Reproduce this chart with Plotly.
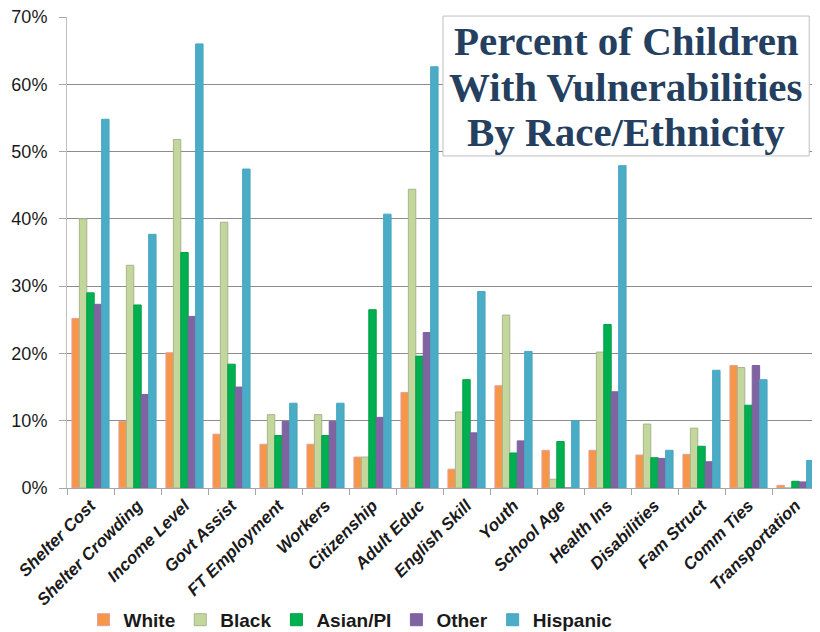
import plotly.graph_objects as go

categories = ["Shelter Cost", "Shelter Crowding", "Income Level", "Govt Assist",
              "FT Employment", "Workers", "Citizenship", "Adult Educ", "English Skill",
              "Youth", "School Age", "Health Ins", "Disabilities", "Fam Struct",
              "Comm Ties", "Transportation"]

white = [25.2, 9.9, 20.1, 8.0, 6.5, 6.5, 4.6, 14.2, 2.8, 15.2, 5.6, 5.6, 4.9, 5.0, 18.2, 0.4]
black = [40.0, 33.1, 51.8, 39.5, 10.9, 10.9, 4.6, 44.4, 11.3, 25.7, 1.3, 20.2, 9.5, 8.9, 17.9, 0.0]
asian = [29.0, 27.2, 35.0, 18.4, 7.8, 7.8, 26.5, 19.6, 16.1, 5.2, 6.9, 24.3, 4.5, 6.2, 12.3, 1.0]
other = [27.3, 13.9, 25.5, 15.0, 9.9, 9.9, 10.5, 23.1, 8.2, 7.0, 0.0, 14.3, 4.4, 3.9, 18.2, 0.9]
hispanic = [54.8, 37.7, 66.0, 47.4, 12.6, 12.6, 40.7, 62.6, 29.2, 20.3, 10.0, 47.9, 5.6, 17.5, 16.1, 4.1]

title_lines = ["Percent of Children", "With Vulnerabilities", "By Race/Ethnicity"]

series = [
    ("White", white, "#F79646", "#E0A0A0"),
    ("Black", black, "#C3D69B", "#A8B48C"),
    ("Asian/PI", asian, "#00B050", "#00A048"),
    ("Other", other, "#8064A2", "#7A62A0"),
    ("Hispanic", hispanic, "#4BACC6", "#48A6C0"),
]

fig = go.Figure()
for name, vals, col, edge in series:
    fig.add_trace(go.Bar(
        x=categories, y=[v / 100 for v in vals], name=name,
        marker=dict(color=col, line=dict(color=edge, width=1)),
    ))

# the page body has an 8px margin, so the figure is sized 812x624
fig.update_layout(
    width=812, height=624,
    margin=dict(l=59, r=1, t=9, b=144, autoexpand=False),
    paper_bgcolor="white", plot_bgcolor="white",
    barmode="group", bargap=0.21, bargroupgap=0,
    font=dict(family="Liberation Sans, Arial, sans-serif", color="#1a1a1a"),
    legend=dict(orientation="h", x=0.022, xanchor="left", y=-0.28, yanchor="middle",
                font=dict(size=19, weight="bold", color="#1a1a1a"),
                itemwidth=30, tracegroupgap=0),
    showlegend=True,
)

fig.update_yaxes(
    range=[0, 0.70], dtick=0.10, tickformat=".0%",
    showgrid=True, gridcolor="#8C8C8C", gridwidth=1,
    showline=True, linecolor="#BFBFBF", linewidth=1,
    ticks="outside", ticklen=7, tickcolor="#A6A6A6",
    tickfont=dict(size=18, color="#1a1a1a"),
    ticklabelstandoff=8, ticklabeloverflow="allow", automargin=False,
    zeroline=False,
)
fig.update_xaxes(
    showline=True, linecolor="#A6A6A6", linewidth=1,
    ticks="outside", ticklen=6, tickcolor="#A6A6A6", tickson="boundaries",
    tickangle=-45, automargin=False,
    tickfont=dict(size=17, weight="bold", style="italic", color="#1a1a1a"),
)

fig.add_shape(type="rect", xref="paper", yref="paper",
              x0=0.5, x1=0.987, y0=0.705, y1=1.002,
              fillcolor="white", line=dict(color="#BFBFBF", width=1), layer="above")
line_y = [0.950, 0.851, 0.755]
for txt, yy in zip(title_lines, line_y):
    fig.add_annotation(
        xref="paper", yref="paper", x=0.7435, y=yy, xanchor="center", yanchor="middle",
        text=txt, showarrow=False, align="center",
        font=dict(family="Liberation Serif, Cambria, serif", size=41, weight="bold", color="#243F60"),
    )

fig.write_html("out.html")
